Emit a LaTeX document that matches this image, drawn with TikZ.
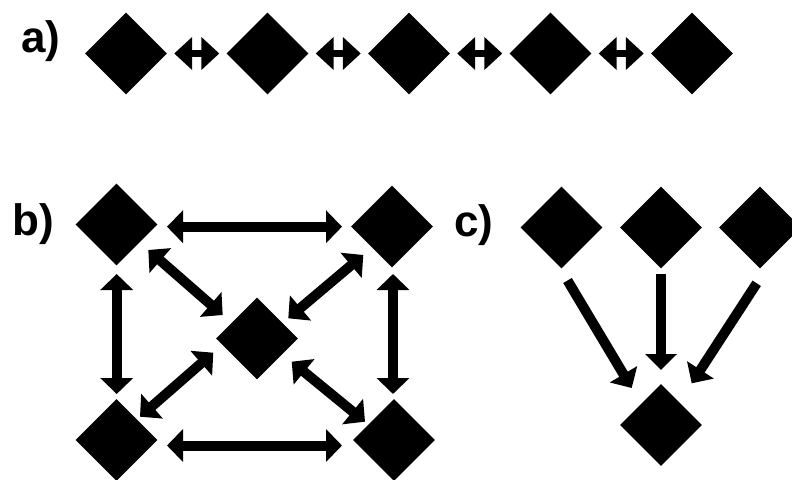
\documentclass[tikz,border=0pt]{standalone}
\usepackage{fontspec}
\setmainfont{Liberation Sans}
\usetikzlibrary{arrows.meta,shapes.geometric,calc}
\begin{document}
\begin{tikzpicture}[x=1pt,y=-1pt,
  dia/.style={diamond, fill=black, draw=none, inner sep=0pt, minimum width=82pt, minimum height=82pt},
  lab/.style={font=\fontsize{44}{50}\selectfont\bfseries, anchor=base west, inner sep=0pt},
  bigdbl/.style={line width=10pt, {Triangle[width=32pt,length=16pt]}-{Triangle[width=32pt,length=16pt]}},
  bigone/.style={line width=10pt, -{Triangle[width=31pt,length=16pt]}},
  smalldbl/.style={line width=7.5pt, {Triangle[width=32pt,length=18pt]}-{Triangle[width=32pt,length=18pt]}, shorten <=7pt, shorten >=7pt}]
\fill[white] (0,0) rectangle (792,479);
\useasboundingbox (0,0) rectangle (792,479);

% labels
\node[lab] (la) at (21,52) {a)};
\node[lab] (lb) at (12,235) {b)};
\node[lab] (lc) at (454,236) {c)};

% a) chain
\node[dia] (a1) at (126,53.5) {};
\node[dia] (a2) at (267.5,53.5) {};
\node[dia] (a3) at (409,53.5) {};
\node[dia] (a4) at (550.5,53.5) {};
\node[dia] (a5) at (692,53.5) {};
\draw[smalldbl] (a1) -- (a2);
\draw[smalldbl] (a2) -- (a3);
\draw[smalldbl] (a3) -- (a4);
\draw[smalldbl] (a4) -- (a5);

% b) network
\node[dia] (tl) at (116.5,224.5) {};
\node[dia] (tr) at (392,226.5) {};
\node[dia] (c)  at (257,338.5) {};
\node[dia] (bl) at (116.5,440) {};
\node[dia] (br) at (394,440) {};
\draw[bigdbl] ($(tl)+(50.5,2.2)$) -- ($(tr)+(-50,0.2)$);
\draw[bigdbl] ($(bl)+(50.5,5.5)$) -- ($(br)+(-52,5.5)$);
\draw[bigdbl] ($(tl)+(0.2,49.5)$) -- ($(bl)+(0.2,-46)$);
\draw[bigdbl] ($(tr)+(1,47.5)$) -- ($(br)+(-1,-46)$);
\draw[bigdbl] ($(tl)+(31.8,25.5)$) -- ($(c)+(-34.3,-23.5)$);
\draw[bigdbl] ($(tr)+(-28.7,28.5)$) -- ($(c)+(31.3,-20.2)$);
\draw[bigdbl] ($(bl)+(23.5,-23.3)$) -- ($(c)+(-43.7,14.2)$);
\draw[bigdbl] ($(br)+(-29,-18.3)$) -- ($(c)+(34.7,23.2)$);

% c) convergence
\node[dia] (d1) at (561.5,227.5) {};
\node[dia] (d2) at (661,227.5) {};
\node[dia] (d3) at (760,227.5) {};
\node[dia] (d4) at (661,425) {};
\draw[bigone] ($(d1)+(6,53)$) -- ($(d4)+(-29.3,-37)$);
\draw[bigone] ($(d2)+(0,46.5)$) -- ($(d4)+(0,-55)$);
\draw[bigone] ($(d3)+(-3.3,55.8)$) -- ($(d4)+(30.7,-41.7)$);
\end{tikzpicture}
\end{document}
